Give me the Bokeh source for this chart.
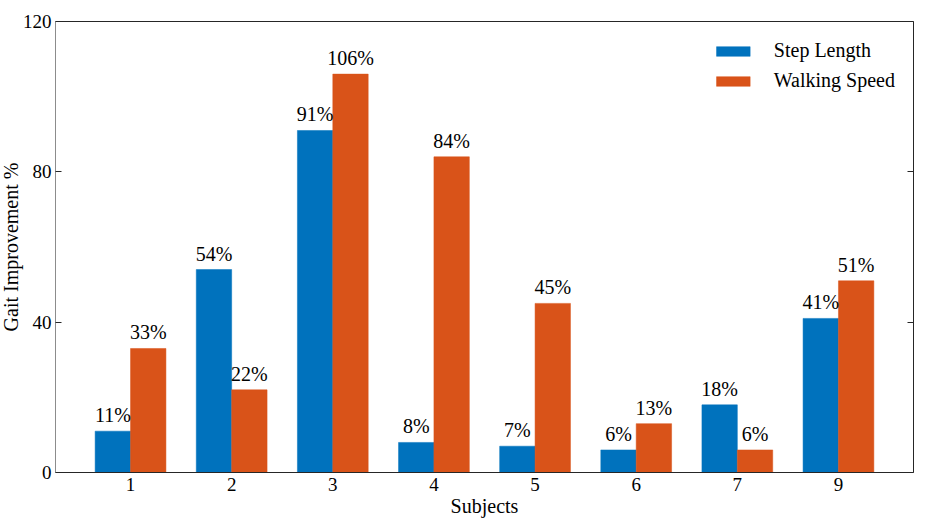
from bokeh.plotting import figure
from bokeh.models import (ColumnDataSource, Range1d, LinearAxis, FixedTicker, Legend,
                          LegendItem, Title)
from bokeh.transform import dodge
from bokeh.core.properties import value
from bokeh.embed import file_html
from bokeh.resources import INLINE

# Gait improvement per subject
subjects = ["1", "2", "3", "4", "5", "6", "7", "9"]
step_length = [11, 54, 91, 8, 7, 6, 18, 41]
walking_speed = [33, 22, 106, 84, 45, 13, 6, 51]
y_ticks = [0, 40, 80, 120]

FONT = "Liberation Serif"
BLUE = "#0072BD"
ORANGE = "#D95319"
DARK = "#262626"
BAR_W = 0.35

pos = list(range(1, len(subjects) + 1))
src = ColumnDataSource(dict(
    pos=pos,
    step=step_length,
    speed=walking_speed,
    step_lbl=[f"{v}%" for v in step_length],
    speed_lbl=[f"{v}%" for v in walking_speed],
))

p = figure(
    width=928, height=531,
    x_range=Range1d(1 - 0.742, len(subjects) + 0.742),
    y_range=Range1d(0, 120),
    output_backend="svg", toolbar_location=None,
    min_border_left=55, min_border_right=15, min_border_top=21, min_border_bottom=59,
)
p.outline_line_color = None
p.xgrid.visible = False
p.ygrid.visible = False
p.background_fill_color = "white"
p.border_fill_color = "white"

r_step = p.vbar(x=dodge("pos", -BAR_W / 2, range=p.x_range), top="step", width=BAR_W,
                source=src, fill_color=BLUE, line_color=BLUE, line_width=0.5)
r_speed = p.vbar(x=dodge("pos", BAR_W / 2, range=p.x_range), top="speed", width=BAR_W,
                 source=src, fill_color=ORANGE, line_color=ORANGE, line_width=0.5)

p.text(x=dodge("pos", -BAR_W / 2, range=p.x_range), y="step", text="step_lbl",
       source=src, text_font=value(FONT), text_font_size="20px", text_color="#000000",
       text_align="center", text_baseline="alphabetic", y_offset=-16)
p.text(x=dodge("pos", BAR_W / 2, range=p.x_range), y="speed", text="speed_lbl",
       source=src, text_font=value(FONT), text_font_size="20px", text_color="#000000",
       text_align="center", text_baseline="alphabetic", y_offset=-16)

# bottom axis
xa = p.xaxis[0]
xa.ticker = FixedTicker(ticks=pos)
xa.major_label_overrides = {i: s for i, s in zip(pos, subjects)}
xa.major_tick_in = 0
xa.major_tick_out = 0
xa.minor_tick_line_color = None
xa.axis_line_color = DARK
xa.major_label_standoff = 5
xa.major_label_text_font = FONT
xa.major_label_text_font_size = "19px"
xa.major_label_text_color = "#000000"
xa.axis_label = "Subjects"
xa.axis_label_text_font = FONT
xa.axis_label_text_font_size = "20px"
xa.axis_label_text_font_style = "normal"
xa.axis_label_text_color = "#000000"
xa.axis_label_standoff = 1

# left axis
ya = p.yaxis[0]
ya.ticker = FixedTicker(ticks=y_ticks)
ya.major_tick_in = 6
ya.major_tick_out = 0
ya.major_tick_line_color = DARK
ya.minor_tick_line_color = None
ya.axis_line_color = "#8c8c8c"
ya.major_label_standoff = 4
ya.major_label_text_font = FONT
ya.major_label_text_font_size = "19px"
ya.major_label_text_color = "#000000"

# y-axis title as a side title, pulled in tight to the tick labels
p.add_layout(Title(text="Gait Improvement %", align="center", standoff=-5, offset=0,
                   text_font=FONT, text_font_size="20px", text_font_style="normal",
                   text_color="#000000"), "left")

# right axis: ticks only
ra = LinearAxis(ticker=FixedTicker(ticks=y_ticks), major_tick_in=6, major_tick_out=0,
                major_tick_line_color=DARK, minor_tick_line_color=None,
                axis_line_color=DARK, major_label_standoff=0,
                major_label_overrides={t: "" for t in y_ticks})
p.add_layout(ra, "right")

# top edge of the box
ta = LinearAxis(ticker=FixedTicker(ticks=[]), major_tick_in=0, major_tick_out=0,
                minor_tick_line_color=None, axis_line_color=DARK, major_label_standoff=0)
p.add_layout(ta, "above")

legend = Legend(items=[LegendItem(label="Step Length", renderers=[r_step]),
                       LegendItem(label="Walking Speed", renderers=[r_speed])],
                location="top_right")
legend.border_line_color = None
legend.background_fill_alpha = 0
legend.glyph_width = 42
legend.glyph_height = 12
legend.label_standoff = 20
legend.spacing = 7
legend.padding = 0
legend.margin = 18
legend.label_text_font = FONT
legend.label_text_font_size = "20px"
legend.label_text_color = "#000000"
p.add_layout(legend)

open("out.html", "w").write(file_html(p, INLINE))
